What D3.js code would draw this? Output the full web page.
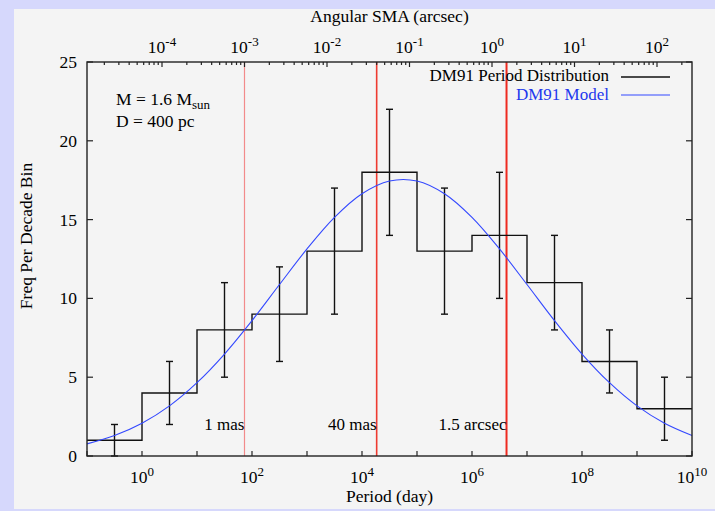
<!DOCTYPE html>
<html>
<head>
<meta charset="utf-8">
<script src="https://cdn.jsdelivr.net/npm/d3@7"></script>
<style>
  body { margin: 0; background: #d6d8fc; }
  svg { display: block; font-family: "Liberation Serif", "DejaVu Serif", serif; }
</style>
</head>
<body>
<div id="chart"></div>
<script>
// histogram: one bin per decade of period (log10 day)
const binStarts = [-1, 0, 1, 2, 3, 4, 5, 6, 7, 8, 9];
const binCounts = [1, 4, 8, 9, 13, 18, 13, 14, 11, 6, 3];
const errLow  = [0, 2, 5, 6, 9, 14, 9, 10, 8, 4, 1];
const errHigh = [2, 6, 11, 12, 17, 22, 17, 18, 14, 8, 5];

// DM91 model curve, read every half decade
const modelLogP = [-1, -0.5, 0, 0.5, 1, 1.5, 2, 2.5, 3, 3.5, 4, 4.5, 5, 5.5, 6, 6.5, 7, 7.5, 8, 8.5, 9, 9.5, 10];
const modelFreq = [0.77, 1.30, 2.08, 3.18, 4.65, 6.47, 8.59, 10.88, 13.14, 15.14, 16.64, 17.45,
                   17.45, 16.64, 15.14, 13.14, 10.88, 8.59, 6.47, 4.65, 3.18, 2.08, 1.30];

// angular separation markers (arcsec)
const markerSMA = [0.001, 0.04, 1.5];
const markerLabels = ["1 mas", "40 mas", "1.5 arcsec"];

const massSun = 1.6;
const distPc = 400;

const yTicks = [0, 5, 10, 15, 20, 25];
const periodExps = [-1, 0, 1, 2, 3, 4, 5, 6, 7, 8, 9, 10];
const periodLabelExps = [0, 2, 4, 6, 8, 10];
const smaExps = [-4, -3, -2, -1, 0, 1, 2];

const width = 715, height = 511;
const margin = {top: 62, right: 23, bottom: 55, left: 87};
const fs = 17.5, fsSup = 13;

const svg = d3.select("#chart").append("svg")
    .attr("width", width)
    .attr("height", height);

// light panel
svg.append("rect")
    .attr("x", 14).attr("y", 9)
    .attr("width", width - 14).attr("height", 500)
    .attr("fill", "#f4f4f4");

const x = d3.scaleLinear()
    .domain([-1, 10])
    .range([margin.left, width - margin.right]);

const y = d3.scaleLinear()
    .domain([0, 25])
    .range([height - margin.bottom, margin.top]);

// period (day) -> semi-major axis (arcsec) via Kepler
const periodToSMA = logP => (2 / 3) * (logP - Math.log10(365.25)) + (1 / 3) * Math.log10(massSun) - Math.log10(distPc);
const x2 = d3.scaleLinear()
    .domain([periodToSMA(-1), periodToSMA(10)])
    .range(x.range());

const plot = svg.append("g");

// red separation markers
const redColors = ["#f28a8a", "#ee3a30", "#ee2a20"];
const redWidths = [1.2, 1.6, 2];
markerSMA.forEach((a, i) => {
    const px = x2(Math.log10(a));
    plot.append("line")
        .attr("x1", px).attr("x2", px)
        .attr("y1", y(25)).attr("y2", y(0))
        .attr("stroke", redColors[i])
        .attr("stroke-width", redWidths[i]);
    plot.append("text")
        .attr("x", px).attr("y", 430)
        .attr("text-anchor", "end")
        .attr("font-size", 17)
        .attr("fill", "#000")
        .text(markerLabels[i]);
});

// histogram steps
const stepPts = [];
binStarts.forEach((s, i) => {
    stepPts.push([s, binCounts[i]]);
    stepPts.push([s + 1, binCounts[i]]);
});
plot.append("path")
    .attr("d", d3.line().x(d => x(d[0])).y(d => y(d[1]))(stepPts))
    .attr("fill", "none")
    .attr("stroke", "#111")
    .attr("stroke-width", 1.4);

// error bars at bin centres
const eb = plot.append("g").attr("stroke", "#111").attr("stroke-width", 1.4);
binStarts.forEach((s, i) => {
    const cx = x(s + 0.5);
    eb.append("line").attr("x1", cx).attr("x2", cx).attr("y1", y(errLow[i])).attr("y2", y(errHigh[i]));
    eb.append("line").attr("x1", cx - 3.5).attr("x2", cx + 3.5).attr("y1", y(errLow[i])).attr("y2", y(errLow[i]));
    eb.append("line").attr("x1", cx - 3.5).attr("x2", cx + 3.5).attr("y1", y(errHigh[i])).attr("y2", y(errHigh[i]));
});

// model curve
plot.append("path")
    .attr("d", d3.line().curve(d3.curveCatmullRom).x((d, i) => x(modelLogP[i])).y(d => y(d))(modelFreq))
    .attr("fill", "none")
    .attr("stroke", "#3348ff")
    .attr("stroke-width", 1.1);

// frame
svg.append("rect")
    .attr("x", margin.left).attr("y", margin.top)
    .attr("width", x.range()[1] - margin.left)
    .attr("height", y(0) - margin.top)
    .attr("fill", "none")
    .attr("stroke", "#222")
    .attr("stroke-width", 1.4);

const tickG = svg.append("g").attr("stroke", "#222").attr("stroke-width", 1.2);

// y ticks left + right
yTicks.forEach(t => {
    tickG.append("line").attr("x1", margin.left).attr("x2", margin.left + 6).attr("y1", y(t)).attr("y2", y(t));
    tickG.append("line").attr("x1", x.range()[1]).attr("x2", x.range()[1] - 6).attr("y1", y(t)).attr("y2", y(t));
    svg.append("text")
        .attr("x", 77).attr("y", y(t) + 6)
        .attr("text-anchor", "end")
        .attr("font-size", fs)
        .text(t);
});

// bottom ticks (period)
periodExps.forEach(e => {
    tickG.append("line").attr("x1", x(e)).attr("x2", x(e)).attr("y1", y(0)).attr("y2", y(0) - 5);
});
periodLabelExps.forEach(e => {
    const t = svg.append("text")
        .attr("x", x(e)).attr("y", 483)
        .attr("text-anchor", "middle")
        .attr("font-size", fs);
    t.append("tspan").text("10");
    t.append("tspan").attr("dy", -7).attr("font-size", fsSup).text(e);
});

// top ticks (angular SMA), majors + log minors
const smaDom = x2.domain();
for (let e = Math.floor(smaDom[0]); e <= Math.ceil(smaDom[1]); e++) {
    for (let k = 1; k <= 9; k++) {
        const v = e + Math.log10(k);
        if (v < smaDom[0] || v > smaDom[1]) continue;
        tickG.append("line")
            .attr("x1", x2(v)).attr("x2", x2(v))
            .attr("y1", margin.top).attr("y2", margin.top + (k === 1 ? 5 : 3));
    }
}
smaExps.forEach(e => {
    const t = svg.append("text")
        .attr("x", x2(e)).attr("y", 53)
        .attr("text-anchor", "middle")
        .attr("font-size", fs);
    t.append("tspan").text("10");
    t.append("tspan").attr("dy", -7).attr("font-size", fsSup).text(e);
});

// axis titles
svg.append("text")
    .attr("x", (margin.left + x.range()[1]) / 2).attr("y", 22)
    .attr("text-anchor", "middle").attr("font-size", fs)
    .text("Angular SMA (arcsec)");
svg.append("text")
    .attr("x", (margin.left + x.range()[1]) / 2).attr("y", 502)
    .attr("text-anchor", "middle").attr("font-size", fs)
    .text("Period (day)");
svg.append("text")
    .attr("transform", "translate(32,236) rotate(-90)")
    .attr("text-anchor", "middle").attr("font-size", fs)
    .text("Freq Per Decade Bin");

// annotation
const ann = svg.append("text").attr("x", 116).attr("y", 105).attr("font-size", fs);
ann.append("tspan").text("M = 1.6 M");
ann.append("tspan").attr("dy", 4).attr("font-size", fsSup).text("sun");
svg.append("text").attr("x", 116).attr("y", 127).attr("font-size", fs).text("D = " + distPc + " pc");

// legend
svg.append("text").attr("x", 609).attr("y", 81).attr("text-anchor", "end").attr("font-size", 17)
    .text("DM91 Period Distribution");
svg.append("line").attr("x1", 621).attr("x2", 670).attr("y1", 77).attr("y2", 77)
    .attr("stroke", "#111").attr("stroke-width", 1.4);
svg.append("text").attr("x", 609).attr("y", 100).attr("text-anchor", "end").attr("font-size", 17)
    .attr("fill", "#2238ee")
    .text("DM91 Model");
svg.append("line").attr("x1", 621).attr("x2", 670).attr("y1", 95).attr("y2", 95)
    .attr("stroke", "#3348ff").attr("stroke-width", 1.1);
</script>
</body>
</html>
